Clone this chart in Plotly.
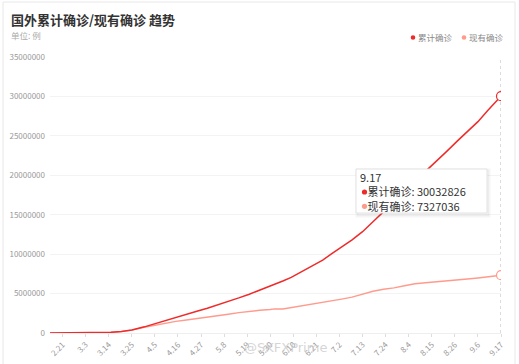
import plotly.graph_objects as go

# ---- data ----
dates = ["2020-02-15", "2020-02-20", "2020-02-25", "2020-03-01", "2020-03-05", "2020-03-10",
         "2020-03-15", "2020-03-20", "2020-03-25", "2020-03-31", "2020-04-05", "2020-04-10",
         "2020-04-15", "2020-04-20", "2020-04-25", "2020-04-30", "2020-05-05", "2020-05-10",
         "2020-05-15", "2020-05-20", "2020-05-25", "2020-05-30", "2020-06-01", "2020-06-05",
         "2020-06-09", "2020-06-14", "2020-06-19", "2020-06-24", "2020-06-28", "2020-07-03",
         "2020-07-08", "2020-07-13", "2020-07-18", "2020-07-23", "2020-07-28", "2020-08-02",
         "2020-08-07", "2020-08-12", "2020-08-17", "2020-08-22", "2020-08-27", "2020-09-01",
         "2020-09-06", "2020-09-11", "2020-09-17"]
cumulative = [600, 1100, 2400, 8000, 17000, 38000,
              86000, 190000, 385000, 780000, 1190000, 1600000,
              1990000, 2390000, 2760000, 3140000, 3560000, 4010000,
              4450000, 4920000, 5420000, 5930000, 6150000, 6600000,
              7050000, 7770000, 8470000, 9230000, 10000000, 10900000,
              11800000, 12850000, 14100000, 15400000, 16600000, 17900000,
              19200000, 20500000, 21700000, 23000000, 24300000, 25500000,
              26800000, 28300000, 30032826]
current = [500, 1000, 2200, 7000, 15000, 34000,
           80000, 178000, 360000, 730000, 990000, 1250000,
           1480000, 1650000, 1820000, 1950000, 2150000, 2380000,
           2580000, 2760000, 2880000, 2980000, 3060000, 3040000,
           3220000, 3420000, 3600000, 3800000, 4000000, 4300000,
           4550000, 4950000, 5300000, 5550000, 5720000, 6000000,
           6250000, 6380000, 6480000, 6600000, 6700000, 6850000,
           6980000, 7130000, 7327036]
series_names = ["累计确诊", "现有确诊"]
tick_dates = ["2020-02-21", "2020-03-03", "2020-03-14", "2020-03-25", "2020-04-05", "2020-04-16",
              "2020-04-27", "2020-05-08", "2020-05-19", "2020-05-30", "2020-06-10", "2020-06-21",
              "2020-07-02", "2020-07-13", "2020-07-24", "2020-08-04", "2020-08-15", "2020-08-26",
              "2020-09-06", "2020-09-17"]
tick_labels = ["2.21", "3.3", "3.14", "3.25", "4.5", "4.16", "4.27", "5.8", "5.19", "5.30",
               "6.10", "6.21", "7.2", "7.13", "7.24", "8.4", "8.15", "8.26", "9.6", "9.17"]
y_ticks = [0, 5000000, 10000000, 15000000, 20000000, 25000000, 30000000, 35000000]

RED = "#ee2b2b"
PINK = "#ff9b8c"
FONT = "Noto Sans CJK SC, sans-serif"

W, H = 519, 364
L, R, T, B = 50, 18, 57, 31
PW, PH = W - L - R, H - T - B


def px(x):
    return (x - L) / PW


def py(y):
    return (H - B - y) / PH


def dot(cx, cy, r, col):
    return dict(type="circle", xref="paper", yref="paper", x0=px(cx - r), x1=px(cx + r),
                y0=py(cy + r), y1=py(cy - r), fillcolor=col, line=dict(width=0))


fig = go.Figure()
fig.add_trace(go.Scatter(x=dates, y=current, mode="lines", name=series_names[1],
                         line=dict(color=PINK, width=1.4), showlegend=False, hoverinfo="skip"))
fig.add_trace(go.Scatter(x=dates, y=cumulative, mode="lines", name=series_names[0],
                         line=dict(color=RED, width=1.5), showlegend=False, hoverinfo="skip"))
# hover end markers
fig.add_trace(go.Scatter(x=[dates[-1]], y=[cumulative[-1]], mode="markers", showlegend=False,
                         marker=dict(size=9, color="white", line=dict(color=RED, width=1.2))))
fig.add_trace(go.Scatter(x=[dates[-1]], y=[current[-1]], mode="markers", showlegend=False,
                         marker=dict(size=9, color="white", line=dict(color=PINK, width=1.2))))

TT_FS = 11
LINE_H = 14.3
TT_CY = 191.5

shapes = [
    # axis pointer
    dict(type="line", xref="x", yref="paper", x0=dates[-1], x1=dates[-1], y0=0, y1=1,
         line=dict(color="#b8b8b8", width=1, dash="dot"), layer="below"),
    # card border
    dict(type="rect", xref="paper", yref="paper", x0=px(3), x1=px(515), y0=py(366), y1=py(2),
         line=dict(color="#e8e8e8", width=1), layer="below"),
    # tooltip shadow + box
    dict(type="rect", xref="paper", yref="paper", x0=px(357), x1=px(489), y0=py(216), y1=py(170),
         line=dict(color="rgba(0,0,0,0.04)", width=3), fillcolor="rgba(0,0,0,0.03)"),
    dict(type="rect", xref="paper", yref="paper", x0=px(356), x1=px(487), y0=py(213), y1=py(169),
         line=dict(color="#e2e2e2", width=1), fillcolor="white"),
    # legend dots
    dot(413, 37.5, 2.3, RED), dot(464, 37.5, 2.3, PINK),
    # tooltip dots
    dot(364.5, TT_CY + 0.5, 2.6, RED), dot(364.5, TT_CY + LINE_H + 0.5, 2.6, PINK),
]

ann = []
ann.append(dict(text="<b>国外累计确诊/现有确诊 趋势</b>", x=px(9), y=py(19), xanchor="left",
                yanchor="middle", font=dict(size=13, color="#333", family=FONT)))
ann.append(dict(text="单位: 例", x=px(9), y=py(35), xanchor="left", yanchor="middle",
                font=dict(size=8.5, color="#aaa", family=FONT)))
# legend texts
for xt, name in [(416, series_names[0]), (467, series_names[1])]:
    ann.append(dict(text=name, x=px(xt), y=py(37), xanchor="left", yanchor="middle",
                    font=dict(size=8.5, color="#888", family=FONT)))
# tooltip (single block)
pad = "&nbsp;" * 3
tt_text = (f"{tick_labels[-1]}<br>{pad}{series_names[0]}: {cumulative[-1]}"
           f"<br>{pad}{series_names[1]}: {current[-1]}")
ann.append(dict(text=tt_text, x=px(358), y=py(TT_CY), xanchor="left", yanchor="middle",
                align="left", font=dict(size=TT_FS, color="#333", family=FONT)))
# watermark
ann.append(dict(text="@SKFXPrime", x=px(285), y=py(347), xanchor="center", yanchor="middle",
                font=dict(size=13, color="rgba(200,200,200,0.75)", family="DejaVu Sans")))
for a in ann:
    a.update(xref="paper", yref="paper", showarrow=False)

fig.update_layout(
    width=W, height=H, margin=dict(l=L, r=R, t=T, b=B, pad=0),
    paper_bgcolor="white", plot_bgcolor="white",
    font=dict(family=FONT, color="#999"),
    shapes=shapes, annotations=ann, showlegend=False,
    xaxis=dict(type="date", range=[dates[0], dates[-1]], tickvals=tick_dates, ticktext=tick_labels,
               tickangle=-45, tickfont=dict(size=8, color="#999", family=FONT), automargin=False,
               showgrid=False, zeroline=False, showline=True, linecolor="#eeeeee",
               ticks="outside", ticklen=3, tickcolor="#dddddd"),
    yaxis=dict(range=[0, 35000000], tickvals=y_ticks, ticktext=[str(v) for v in y_ticks],
               tickfont=dict(size=8, color="#999", family=FONT), showgrid=True, automargin=False,
               gridcolor="#f3f3f3", zeroline=False, showline=False, ticks="", ticklabelstandoff=4),
)

fig.write_html("out.html", config={"displayModeBar": False},
               post_script="document.body.style.margin='0';document.body.style.overflow='hidden';")
